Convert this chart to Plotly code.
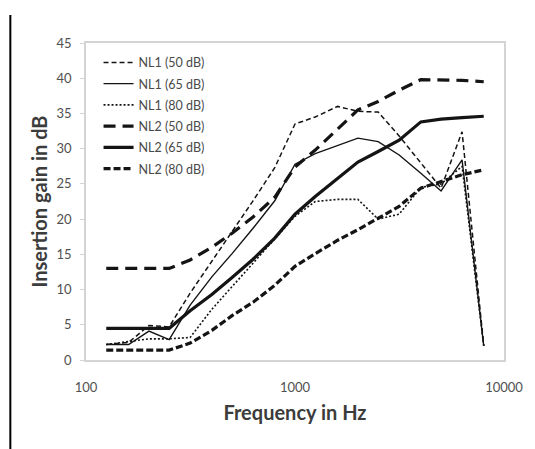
import plotly.graph_objects as go

freqs = [125, 160, 200, 250, 315, 400, 500, 630, 800, 1000, 1250, 1600, 2000, 2500, 3150, 4000, 5000, 6300, 8000]

nl1_50 = [2.2, 2.5, 4.9, 4.7, 9.5, 14.0, 18.2, 22.6, 27.3, 33.5, 34.5, 36.0, 35.3, 35.2, 31.8, 28.0, 24.4, 32.4, 2.0]
nl1_65 = [2.2, 2.2, 4.1, 2.9, 7.8, 11.8, 15.1, 18.7, 22.6, 27.8, 29.3, 30.5, 31.5, 31.0, 29.1, 26.5, 24.0, 28.4, 2.0]
nl1_80 = [2.2, 2.6, 3.0, 3.0, 3.2, 7.2, 10.4, 13.7, 17.2, 20.4, 22.5, 22.8, 22.8, 20.0, 20.7, 24.5, 25.0, 27.5, 2.0]
nl2_50 = [13.0, 13.0, 13.0, 13.0, 14.2, 16.0, 18.0, 20.3, 23.1, 27.4, 29.8, 32.8, 35.5, 36.7, 38.3, 39.8, 39.8, 39.7, 39.5]
nl2_65 = [4.5, 4.5, 4.5, 4.5, 7.0, 9.3, 11.7, 14.3, 17.3, 20.7, 23.2, 25.8, 28.1, 29.6, 31.2, 33.8, 34.2, 34.4, 34.6]
nl2_80 = [1.4, 1.4, 1.4, 1.4, 2.4, 4.2, 6.3, 8.2, 10.6, 13.3, 15.1, 17.0, 18.5, 20.1, 21.8, 24.4, 25.3, 26.3, 27.0]

series_names = ["NL1 (50 dB)", "NL1 (65 dB)", "NL1 (80 dB)", "NL2 (50 dB)", "NL2 (65 dB)", "NL2 (80 dB)"]
series_values = [nl1_50, nl1_65, nl1_80, nl2_50, nl2_65, nl2_80]
styles = [
    dict(width=1.5, dash="5px,3px"),
    dict(width=1.4, dash="solid"),
    dict(width=1.6, dash="2px,2px"),
    dict(width=3.2, dash="12px,7px"),
    dict(width=3.2, dash="solid"),
    dict(width=3.2, dash="7px,3px"),
]

y_ticks = [0, 5, 10, 15, 20, 25, 30, 35, 40, 45]
x_ticks = [100, 1000, 10000]

fig = go.Figure()
for i, (name, vals, st) in enumerate(zip(series_names, series_values, styles)):
    fig.add_trace(go.Scatter(
        x=freqs, y=vals, mode="lines", name=name, legendgroup=f"g{i}",
        line=dict(color="#141414", width=st["width"], dash=st["dash"]),
    ))

tick_font = dict(family="Lato, Open Sans, sans-serif", size=13, color="#505050")

fig.update_layout(
    width=535, height=449,
    margin=dict(l=86, r=29, t=43, b=89),
    paper_bgcolor="white", plot_bgcolor="white",
    font=dict(family="Lato, Open Sans, sans-serif", color="#555555", size=12),
    showlegend=True,
    legend=dict(
        x=0.03, y=0.985, xanchor="left", yanchor="top",
        bgcolor="rgba(255,255,255,0)", font=dict(size=12.5, color="#4a4a4a"),
        tracegroupgap=2, itemwidth=30,
    ),
    xaxis=dict(
        type="log", range=[2, 4], tickvals=x_ticks, ticktext=[str(v) for v in x_ticks],
        tickfont=tick_font,
        showgrid=False, showline=True, linecolor="#d4d4d4", linewidth=1.5, mirror=True,
        ticks="", zeroline=False, ticklabelstandoff=15,
        title=dict(text="<b>Frequency in Hz</b>", font=dict(size=20, color="#3c3c3c"), standoff=12),
    ),
    yaxis=dict(
        range=[0, 45], tickvals=y_ticks, showgrid=False, showline=True,
        tickfont=tick_font,
        linecolor="#d4d4d4", linewidth=1.5, mirror=True,
        ticks="outside", ticklen=4, tickcolor="#d4d4d4", zeroline=False, ticklabelstandoff=6,
        title=dict(text="<b>Insertion gain in dB</b>", font=dict(size=20, color="#3c3c3c"), standoff=4),
    ),
    shapes=[dict(type="line", xref="paper", yref="paper", x0=-0.181, x1=-0.181, y0=1.088, y1=-0.3,
                 line=dict(color="black", width=2))],
)

fig.write_html("out.html")
